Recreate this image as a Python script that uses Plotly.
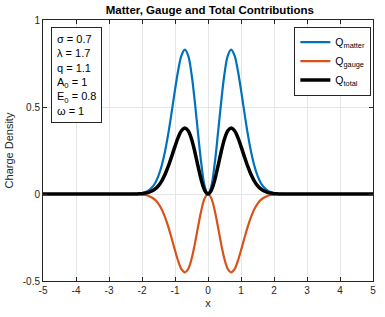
import plotly.graph_objects as go

x = [-5.0, -2.4, -2.2, -2.1, -2.0, -1.9, -1.8, -1.7, -1.6, -1.5, -1.4, -1.3, -1.2, -1.1, -1.0,
     -0.9, -0.8, -0.7, -0.6, -0.5, -0.4, -0.3, -0.2, -0.1, 0.0,
     0.1, 0.2, 0.3, 0.4, 0.5, 0.6, 0.7, 0.8, 0.9, 1.0,
     1.1, 1.2, 1.3, 1.4, 1.5, 1.6, 1.7, 1.8, 1.9, 2.0, 2.1, 2.2, 2.4, 5.0]

q_matter = [0.0, 0.0, 0.001, 0.0025, 0.005, 0.011, 0.020, 0.037, 0.063, 0.105, 0.165, 0.247, 0.351, 0.472, 0.598,
            0.714, 0.798, 0.830, 0.795, 0.691, 0.531, 0.345, 0.170, 0.045, 0.0,
            0.045, 0.170, 0.345, 0.531, 0.691, 0.795, 0.830, 0.798, 0.714, 0.598,
            0.472, 0.351, 0.247, 0.165, 0.105, 0.063, 0.037, 0.020, 0.011, 0.005, 0.0025, 0.001, 0.0, 0.0]

q_gauge = [0.0, 0.0, 0.0, -0.001, -0.003, -0.006, -0.011, -0.020, -0.034, -0.057, -0.089, -0.134, -0.190, -0.256, -0.324,
           -0.387, -0.433, -0.450, -0.431, -0.375, -0.288, -0.187, -0.092, -0.024, 0.0,
           -0.024, -0.092, -0.187, -0.288, -0.375, -0.431, -0.450, -0.433, -0.387, -0.324,
           -0.256, -0.190, -0.134, -0.089, -0.057, -0.034, -0.020, -0.011, -0.006, -0.003, -0.001, 0.0, 0.0, 0.0]

q_total = [0.0, 0.0, 0.0, 0.001, 0.002, 0.005, 0.009, 0.017, 0.029, 0.048, 0.076, 0.113, 0.161, 0.216, 0.274,
           0.327, 0.365, 0.380, 0.364, 0.316, 0.243, 0.158, 0.078, 0.021, 0.0,
           0.021, 0.078, 0.158, 0.243, 0.316, 0.364, 0.380, 0.365, 0.327, 0.274,
           0.216, 0.161, 0.113, 0.076, 0.048, 0.029, 0.017, 0.009, 0.005, 0.002, 0.001, 0.0, 0.0, 0.0]

x_ticks = [-5, -4, -3, -2, -1, 0, 1, 2, 3, 4, 5]
x_tick_labels = ["-5", "-4", "-3", "-2", "-1", "0", "1", "2", "3", "4", "5"]
y_ticks = [-0.5, 0, 0.5, 1]
y_tick_labels = ["-0.5", "0", "0.5", "1"]
params_text = "σ = 0.7<br>λ = 1.7<br>q = 1.1<br>A<sub>0</sub> = 1<br>E<sub>0</sub> = 0.8<br>ω = 1"

font = "Liberation Sans, Arial, sans-serif"

fig = go.Figure()
fig.add_trace(go.Scatter(x=x, y=q_matter, mode="lines", name="Q<sub>matter</sub>",
                         line=dict(color="#0072BD", width=2.2, shape="spline")))
fig.add_trace(go.Scatter(x=x, y=q_gauge, mode="lines", name="Q<sub>gauge</sub>",
                         line=dict(color="#D95319", width=2.2, shape="spline")))
fig.add_trace(go.Scatter(x=x, y=q_total, mode="lines", name="Q<sub>total</sub>",
                         line=dict(color="#000000", width=3.5, shape="spline")))

axis_common = dict(showline=True, linecolor="#262626", linewidth=1, mirror="ticks",
                   ticks="inside", ticklen=4, tickcolor="#262626",
                   showgrid=True, gridcolor="#E6E6E6", gridwidth=1, zeroline=False,
                   tickfont=dict(family=font, size=10, color="#262626"))

fig.update_layout(
    width=385, height=317,
    margin=dict(l=43, r=9, t=20, b=35),
    paper_bgcolor="white", plot_bgcolor="white",
    title=dict(text="<b>Matter, Gauge and Total Contributions</b>", x=0.545, xanchor="center",
               y=0.968, yanchor="middle", font=dict(family=font, size=11.5, color="#000000")),
    xaxis=dict(range=[-5, 5], tickvals=x_ticks, ticktext=x_tick_labels,
               title=dict(text="x", standoff=4,
                          font=dict(family=font, size=11, color="#262626")), **axis_common),
    yaxis=dict(range=[-0.5, 1], tickvals=y_ticks, ticktext=y_tick_labels,
               title=dict(text="Charge Density", standoff=6,
                          font=dict(family=font, size=11, color="#262626")), **axis_common),
    showlegend=True,
    legend=dict(x=0.995, y=0.975, xanchor="right", yanchor="top",
                bgcolor="white", bordercolor="#262626", borderwidth=1,
                font=dict(family=font, size=10.5, color="#000000"),
                tracegroupgap=0, itemwidth=30),
    annotations=[dict(text=params_text, xref="paper", yref="paper", x=0.024, y=0.975,
                      xanchor="left", yanchor="top", align="left", showarrow=False,
                      bordercolor="#262626", borderwidth=1, borderpad=5, bgcolor="white",
                      font=dict(family=font, size=11, color="#000000"))],
)

fig.write_html("out.html")
